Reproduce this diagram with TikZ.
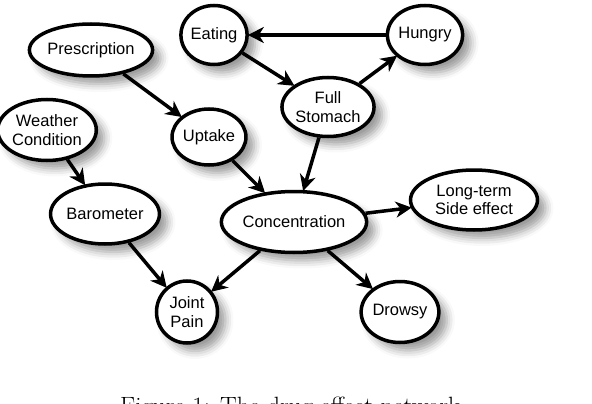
\documentclass[tikz,border=0pt]{standalone}
\usepackage{fontspec}
\newfontfamily\netfont{Liberation Sans}
\usetikzlibrary{shapes.geometric, arrows.meta, shadows.blur}

\begin{document}
\begin{tikzpicture}[
    x=1pt, y=-1pt,
    >={Stealth[length=16pt, width=16pt, inset=5pt]},
    var/.style={draw, ellipse, line width=3.5pt, fill=white, inner sep=0pt, align=center,
      font=\netfont\fontsize{16.5}{18.5}\selectfont,
      blur shadow={shadow xshift=8pt, shadow yshift=-8pt, shadow blur radius=8pt, shadow opacity=40}},
    link/.style={->, line width=3.5pt, shorten >=-1pt},
  ]
  \useasboundingbox (0,0) rectangle (592,404);
  % variables
  \node[var, minimum width=61pt, minimum height=59pt] (eating) at (214,35) {Eating};
  \node[var, minimum width=61pt, minimum height=59pt] (hungry) at (425,35) {Hungry};
  \node[var, minimum width=104pt, minimum height=52pt] (presc) at (91,50) {Prescription};
  \node[var, minimum width=83pt, minimum height=59pt] (full) at (328,107) {Full\\Stomach};
  \node[var, minimum width=88pt, minimum height=61pt] (weather) at (47,130) {Weather\\Condition};
  \node[var, minimum width=62pt, minimum height=56pt] (uptake) at (209,137) {Uptake};
  \node[var, minimum width=89pt, minimum height=60pt] (baro) at (105,214) {Barometer};
  \node[var, minimum width=108pt, minimum height=61pt] (conc) at (294,222) {Concentration};
  \node[var, minimum width=127pt, minimum height=60pt] (side) at (474,200) {Long-term\\Side effect};
  \node[var, minimum width=61pt, minimum height=62pt] (joint) at (187,312) {Joint\\Pain};
  \node[var, minimum width=62pt, minimum height=61pt] (drowsy) at (400,312) {Drowsy};
  % links
  \draw[link] (hungry) -- (eating);
  \draw[link] (eating) -- (full);
  \draw[link] (full) -- (hungry);
  \draw[link] (presc) -- (uptake);
  \draw[link] (uptake) -- (conc);
  \draw[link] (full) -- (conc);
  \draw[link] (weather) -- (baro);
  \draw[link] (baro) -- (joint);
  \draw[link] (conc) -- (joint);
  \draw[link] (conc) -- (side);
  \draw[link] (conc) -- (drowsy);
  % caption, cut by the page edge
  \node[anchor=base west, inner sep=0pt, font=\fontsize{25}{30}\selectfont] (caption) at (120,414) {Figure 1: The drug effect network};
\end{tikzpicture}
\end{document}
